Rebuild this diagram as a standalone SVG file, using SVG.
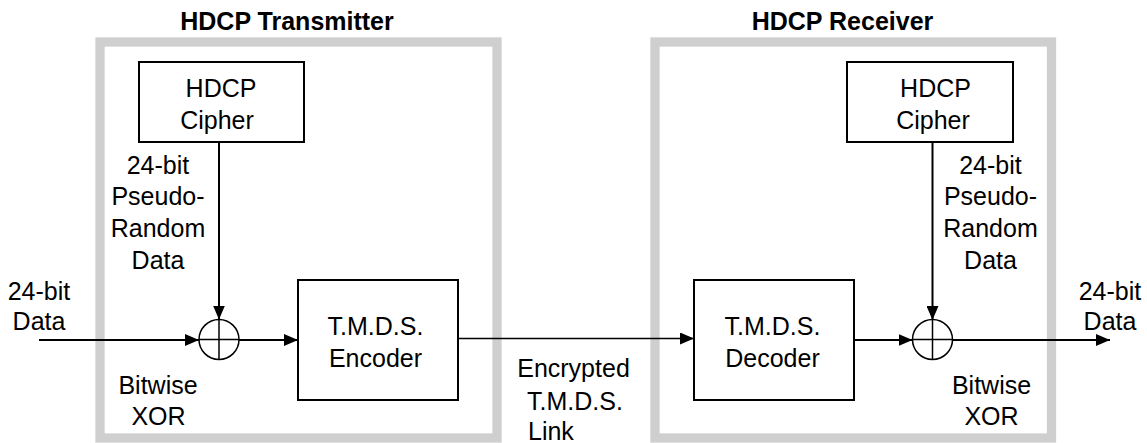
<svg xmlns="http://www.w3.org/2000/svg" width="1147" height="443" viewBox="0 0 1147 443">
<style>
text{font-family:"Liberation Sans",Arial,Helvetica,sans-serif;font-size:25px;fill:#000}
.title{font-weight:bold}
.mid{text-anchor:middle}
.frame{fill:none;stroke:#cfcfcf;stroke-width:9.3}
.box{fill:#fff;stroke:#000;stroke-width:2}
.xor{fill:#fff;stroke:#000;stroke-width:1.5}
.wire{fill:none;stroke:#000;stroke-width:2}
.thin{fill:none;stroke:#000;stroke-width:1.5}
</style>
<defs>
<marker id="arr" markerUnits="userSpaceOnUse" markerWidth="14" markerHeight="12" refX="14" refY="6" orient="auto">
<path d="M0,0 L14,6 L0,12 Z" fill="#000"/>
</marker>
</defs>
<rect width="1147" height="443" fill="#fff"/>
<g id="transmitter">
<rect class="frame" x="100" y="42" width="397" height="396"/>
<text class="title mid" x="287" y="30">HDCP Transmitter</text>
</g>
<g id="receiver">
<rect class="frame" x="655" y="42" width="396.5" height="396"/>
<text class="title mid" x="842.5" y="30">HDCP Receiver</text>
</g>
<g id="connectors">
<line class="wire" x1="39" y1="340" x2="199" y2="340" marker-end="url(#arr)"/>
<line class="wire" x1="219" y1="143" x2="219" y2="319.5" marker-end="url(#arr)"/>
<line class="wire" x1="239" y1="340" x2="298" y2="340" marker-end="url(#arr)"/>
<line class="thin" x1="458" y1="338.5" x2="694" y2="338.5" marker-end="url(#arr)"/>
<line class="wire" x1="854" y1="340" x2="912.5" y2="340" marker-end="url(#arr)"/>
<line class="wire" x1="932.5" y1="143" x2="932.5" y2="320" marker-end="url(#arr)"/>
<line class="wire" x1="952.5" y1="340" x2="1110" y2="340" marker-end="url(#arr)"/>
</g>
<g id="tx-cipher">
<rect class="box" x="139" y="62" width="165" height="80"/>
<text class="mid" x="221" y="97">HDCP</text>
<text class="mid" x="217" y="128.5">Cipher</text>
</g>
<g id="tx-xor">
<circle class="xor" cx="219" cy="339.5" r="20"/>
<line class="thin" x1="219" y1="319.5" x2="219" y2="359.5"/>
<line class="thin" x1="199" y1="339.5" x2="239" y2="339.5"/>
</g>
<g id="encoder">
<rect class="box" x="298" y="280" width="160" height="120"/>
<text class="mid" x="375.5" y="335">T.M.D.S.</text>
<text class="mid" x="375.5" y="366.5">Encoder</text>
</g>
<g id="decoder">
<rect class="box" x="694" y="280" width="160" height="120"/>
<text class="mid" x="772.5" y="335">T.M.D.S.</text>
<text class="mid" x="772.5" y="366.5">Decoder</text>
</g>
<g id="rx-cipher">
<rect class="box" x="847" y="62" width="166" height="80"/>
<text class="mid" x="935.5" y="97">HDCP</text>
<text class="mid" x="933" y="128.5">Cipher</text>
</g>
<g id="rx-xor">
<circle class="xor" cx="932.5" cy="339.5" r="20"/>
<line class="thin" x1="932.5" y1="319.5" x2="932.5" y2="359.5"/>
<line class="thin" x1="912.5" y1="339.5" x2="952.5" y2="339.5"/>
</g>
<g id="labels">
<text class="mid" x="39" y="300">24-bit</text>
<text class="mid" x="39" y="330">Data</text>
<text class="mid" x="158" y="173.5">24-bit</text>
<text class="mid" x="158" y="205">Pseudo-</text>
<text class="mid" x="158" y="237">Random</text>
<text class="mid" x="158" y="268.5">Data</text>
<text class="mid" x="158" y="393.5">Bitwise</text>
<text class="mid" x="158.5" y="425">XOR</text>
<text class="mid" x="573.5" y="376.5">Encrypted</text>
<text class="mid" x="575" y="409.5">T.M.D.S.</text>
<text x="528" y="439.5">Link</text>
<text class="mid" x="990.5" y="173.5">24-bit</text>
<text class="mid" x="990.5" y="205">Pseudo-</text>
<text class="mid" x="990.5" y="237">Random</text>
<text class="mid" x="990.5" y="268.5">Data</text>
<text class="mid" x="991.5" y="393.5">Bitwise</text>
<text class="mid" x="991.5" y="425">XOR</text>
<text class="mid" x="1110" y="300">24-bit</text>
<text class="mid" x="1110" y="330">Data</text>
</g>
</svg>
